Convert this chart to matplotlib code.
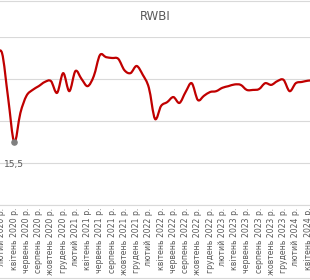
import matplotlib
matplotlib.use("Agg")
import matplotlib.pyplot as plt
from matplotlib.path import Path
from matplotlib.patches import PathPatch

# RWBI monthly values, Jan 2020 .. May 2024
months_ua = ["січень", "лютий", "березень", "квітень", "травень", "червень",
             "липень", "серпень", "вересень", "жовтень", "листопад", "грудень"]
years = [2020, 2021, 2022, 2023, 2024]

rwbi = [17.55, 17.62, 16.55, 15.50, 16.19, 16.60, 16.74, 16.83, 16.93, 16.95,
        16.67, 17.14,
        16.71, 17.19, 17.00, 16.83, 17.07, 17.57, 17.52, 17.50, 17.48, 17.21,
        17.14, 17.31,
        17.10, 16.79, 16.05, 16.36, 16.45, 16.57, 16.43, 16.69, 16.90, 16.50,
        16.60, 16.69,
        16.71, 16.79, 16.83, 16.87, 16.86, 16.74, 16.74, 16.76, 16.90, 16.86,
        16.95, 16.98,
        16.71, 16.90, 16.93, 16.96, 16.97]

labels = [f"{months_ua[i % 12]} {years[i // 12]} р." for i in range(len(rwbi))]
x = list(range(len(rwbi)))

GREY = "#595959"


def smooth_path(xs, ys, t=1 / 6):
    # Excel-style smoothed line: cubic bezier through every point
    verts = [(xs[0], ys[0])]
    codes = [Path.MOVETO]
    n = len(xs)
    for i in range(n - 1):
        x0, y0 = xs[max(i - 1, 0)], ys[max(i - 1, 0)]
        x1, y1 = xs[i], ys[i]
        x2, y2 = xs[i + 1], ys[i + 1]
        x3, y3 = xs[min(i + 2, n - 1)], ys[min(i + 2, n - 1)]
        verts += [(x1 + (x2 - x0) * t, y1 + (y2 - y0) * t),
                  (x2 - (x3 - x1) * t, y2 - (y3 - y1) * t),
                  (x2, y2)]
        codes += [Path.CURVE4] * 3
    return Path(verts, codes)


fig = plt.figure(figsize=(3.1, 2.8), dpi=100)
ax = fig.add_axes([0, 1 - 205 / 280, 1, 168 / 280])

ax.add_patch(PathPatch(smooth_path(x, rwbi), facecolor="none",
                       edgecolor="#C00000", lw=1.6, joinstyle="round",
                       capstyle="round", zorder=3))

# minimum marker + label
i_min = rwbi.index(min(rwbi))
ax.scatter([x[i_min]], [rwbi[i_min]], s=14, color="#7f7f7f", zorder=4)
ax.annotate(f"{rwbi[i_min]:.1f}".replace(".", ","), (x[i_min], rwbi[i_min]),
            xytext=(0, -16), textcoords="offset points", ha="center",
            va="center", fontsize=6.5, color=GREY)

ax.set_xlim(1 - 2 / 6.12, 1 + 308 / 6.12)
ax.set_ylim(14, 18)
ax.set_yticks([14, 15, 16, 17, 18])
ax.yaxis.grid(True, color="#d9d9d9", lw=0.8)
ax.set_axisbelow(True)
ax.tick_params(axis="y", left=False, labelleft=False)

ax.set_xticks(x[1::2])
ax.set_xticklabels(labels[1::2], rotation=90, fontsize=5.6, color=GREY)
ax.tick_params(axis="x", length=0, pad=2)

for s in ["top", "right", "left"]:
    ax.spines[s].set_visible(False)
ax.spines["bottom"].set_color("#d9d9d9")
ax.spines["bottom"].set_linewidth(0.8)

fig.text(0.5, 1 - 17 / 280, "RWBI", ha="center", va="center",
         fontsize=8.5, color=GREY)

# chart border lines
fig.add_artist(plt.Line2D([0, 1], [1 - 0.8 / 280, 1 - 0.8 / 280],
                          color="#d9d9d9", lw=0.8, transform=fig.transFigure))
fig.add_artist(plt.Line2D([0, 1], [1 - 278 / 280, 1 - 278 / 280],
                          color="#d9d9d9", lw=0.8, transform=fig.transFigure))

fig.savefig("out.png", dpi=100)
